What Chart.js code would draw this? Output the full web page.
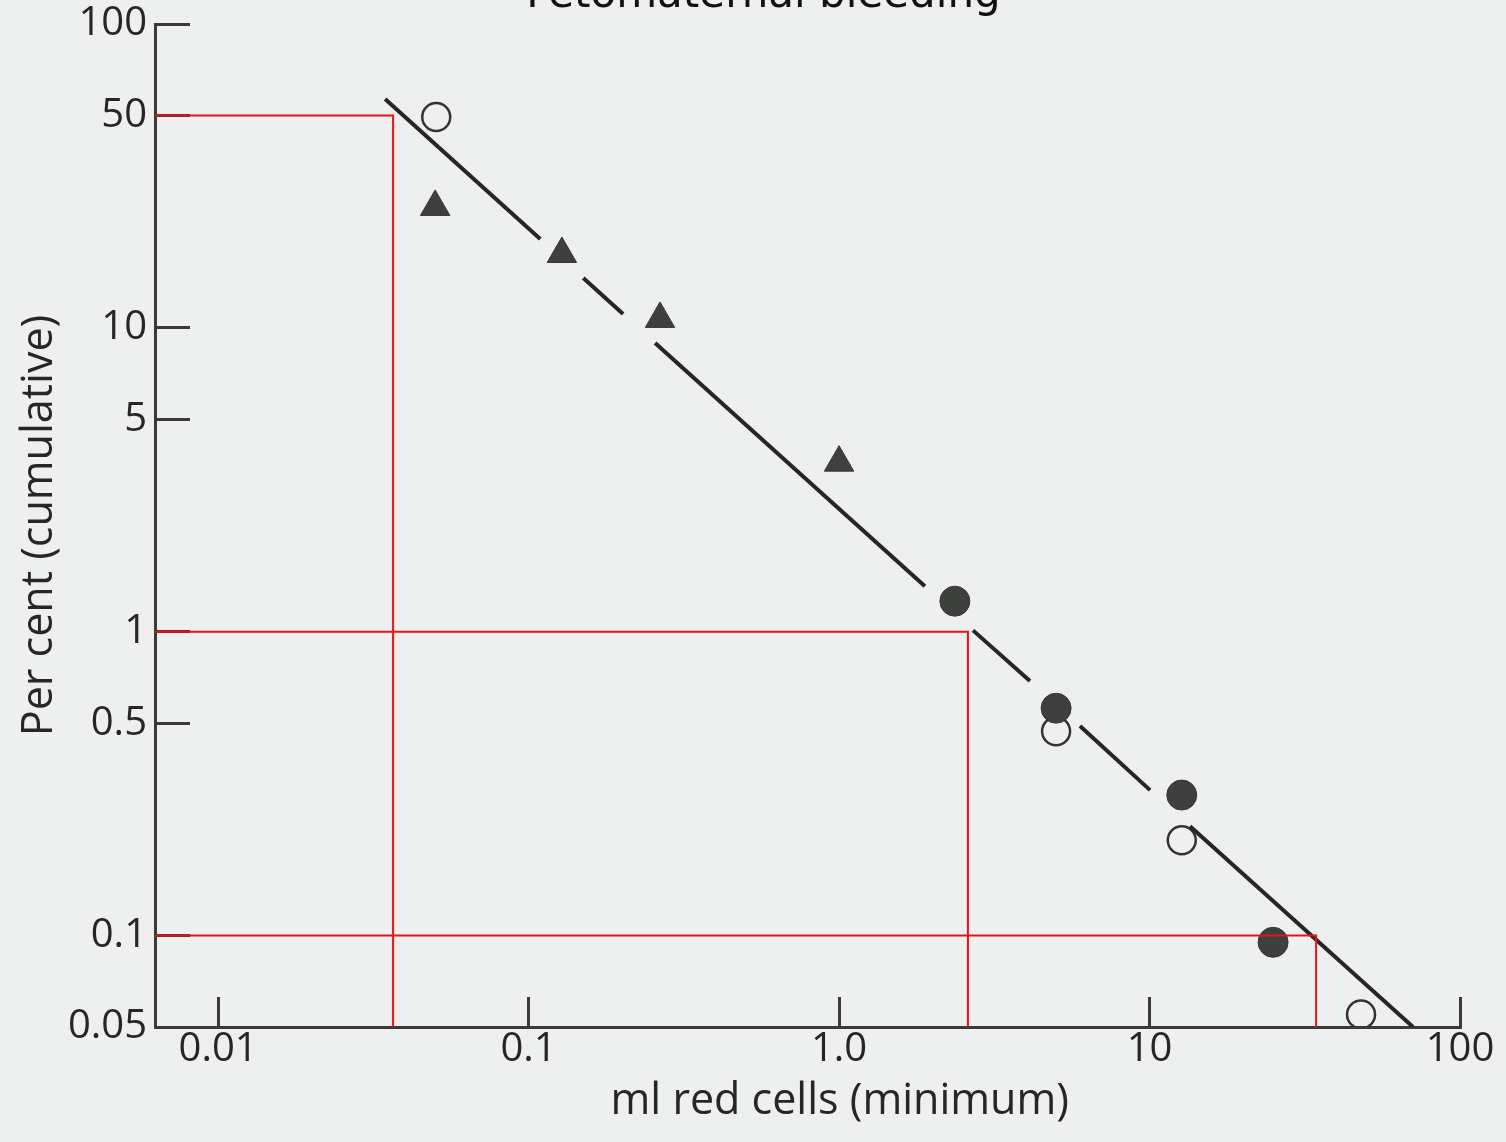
<!DOCTYPE html>
<html>
<head>
<meta charset="utf-8">
<title>Fetomaternal bleeding</title>
<script src="https://cdn.jsdelivr.net/npm/chart.js@4.4.1/dist/chart.umd.min.js"></script>
<style>
  html, body { margin: 0; padding: 0; background: #eef0ef; overflow: hidden; }
  #wrap { position: absolute; left: 0; top: -29px; width: 1506px; height: 1171px; }
</style>
</head>
<body>
<div id="wrap"><canvas id="bleedChart"></canvas></div>
<script>
// axis ticks
const xTicks = [0.01, 0.1, 1, 10, 100];
const xTickLabels = ['0.01', '0.1', '1.0', '10', '100'];
const yTicks = [100, 50, 10, 5, 1, 0.5, 0.1, 0.05];
const yTickLabels = ['100', '50', '10', '5', '1', '0.5', '0.1', '0.05'];
const xMin = 0.00626, xMax = 100;
const yMin = 0.05, yMax = 100;

// observed points
const triangleX = [0.05, 0.128, 0.265, 1.0];
const triangleY = [25, 17.5, 10.7, 3.6];
const filledX = [2.36, 5.0, 12.7, 25];
const filledY = [1.26, 0.56, 0.29, 0.095];
const openX = [0.0504, 5.0, 12.7, 48];
const openY = [49.4, 0.47, 0.206, 0.055];

// fitted line, drawn in pieces with gaps at the markers
const fitStartX = [0.0345, 0.150, 0.2555, 2.70, 5.97, 13.5];
const fitStartY = [56.6, 14.6, 8.91, 1.01, 0.489, 0.229];
const fitEndX = [0.109, 0.2015, 1.89, 4.12, 10.04, 70.6];
const fitEndY = [19.6, 11.1, 1.41, 0.688, 0.301, 0.05];

// red read-off lines
const guideY = [50, 1, 0.1];
const guideX = [0.0366, 2.60, 34.4];

const zip = (xs, ys) => xs.map((x, i) => ({x: x, y: ys[i]}));

const fitData = [];
fitStartX.forEach((x, i) => {
  fitData.push({x: x, y: fitStartY[i]});
  fitData.push({x: fitEndX[i], y: fitEndY[i]});
  fitData.push({x: fitEndX[i], y: null});
});

const guideSets = guideY.map((g, i) => ({
  data: [{x: xMin, y: g}, {x: guideX[i], y: g}, {x: guideX[i], y: yMin}],
  showLine: true,
  borderColor: '#ee1111',
  borderWidth: 2,
  pointRadius: 0,
  fill: false
}));

const axisColor = '#3a3a3a';
const tickFont = {family: 'Open Sans', size: 40};
const titleFont = {family: 'Open Sans', size: 43};

const ctx = document.getElementById('bleedChart').getContext('2d');
new Chart(ctx, {
  type: 'scatter',
  data: {
    datasets: [
      ...guideSets,
      {
        data: fitData,
        showLine: true,
        spanGaps: false,
        borderColor: '#262626',
        borderWidth: 4,
        borderCapStyle: 'butt',
        pointRadius: 0
      },
      {
        data: zip(triangleX, triangleY),
        pointStyle: 'triangle',
        pointRadius: 17,
        backgroundColor: '#3d403d',
        borderColor: '#353535',
        borderWidth: 1
      },
      {
        data: zip(filledX, filledY),
        pointStyle: 'circle',
        pointRadius: 15,
        backgroundColor: '#3d403d',
        borderColor: '#353535',
        borderWidth: 1
      },
      {
        data: zip(openX, openY),
        pointStyle: 'circle',
        pointRadius: 14,
        backgroundColor: 'rgba(0,0,0,0)',
        borderColor: '#333333',
        borderWidth: 2.5
      }
    ]
  },
  options: {
    responsive: true,
    maintainAspectRatio: false,
    animation: false,
    layout: { padding: 0 },
    plugins: {
      legend: { display: false },
      tooltip: { enabled: false },
      title: {
        display: true,
        text: '\u2002Fetomaternal bleeding',
        color: '#111',
        font: {family: 'DejaVu Sans', size: 42, weight: 'normal', lineHeight: 1.2},
        padding: {top: 0, bottom: 2.6}
      }
    },
    scales: {
      x: {
        type: 'logarithmic',
        min: xMin,
        max: xMax,
        afterBuildTicks: scale => { scale.ticks = xTicks.map(v => ({value: v})); },
        afterFit: scale => {
          scale.height = 115;
          scale.paddingLeft = 0;
          scale.paddingRight = 46;
        },
        ticks: {
          autoSkip: false,
          maxRotation: 0,
          padding: 29,
          color: '#262626',
          font: tickFont,
          callback: (value, index) => xTickLabels[index]
        },
        grid: { drawOnChartArea: false, drawTicks: true, tickLength: -30, color: axisColor, lineWidth: 3 },
        border: { display: true, color: axisColor, width: 3 },
        title: {
          display: true,
          text: '\u2002\u2002\u2002ml red cells (minimum)',
          color: '#262626',
          font: titleFont,
          padding: {top: 0, bottom: 14}
        }
      },
      y: {
        type: 'logarithmic',
        min: yMin,
        max: yMax,
        afterBuildTicks: scale => { scale.ticks = yTicks.map(v => ({value: v})); },
        afterFit: scale => {
          scale.width = 155;
          scale.paddingTop = 0;
          scale.paddingBottom = 0;
        },
        ticks: {
          autoSkip: false,
          padding: 43,
          color: '#262626',
          font: tickFont,
          callback: (value, index) => yTickLabels[index]
        },
        grid: { drawOnChartArea: false, drawTicks: true, tickLength: -35, color: axisColor, lineWidth: 3 },
        border: { display: true, color: axisColor, width: 3 },
        title: {
          display: true,
          text: 'Per cent (cumulative)',
          color: '#262626',
          font: titleFont,
          padding: {top: 14, bottom: 0}
        }
      }
    }
  }
});
</script>
</body>
</html>
